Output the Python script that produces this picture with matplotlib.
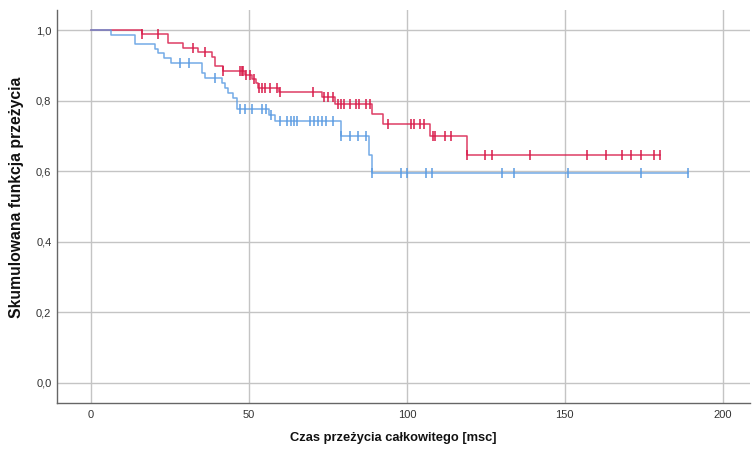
import numpy as np
import matplotlib
matplotlib.use("Agg")
import matplotlib.pyplot as plt
from matplotlib.ticker import FuncFormatter

# Kaplan-Meier step functions: times where the estimate drops and the level after each drop
red_times = [0, 16.0, 24.2, 29.2, 34.0, 38.3, 39.2, 41.9, 48.7, 51.0, 52.2, 52.9,
             59.5, 73.2, 77.4, 89.1, 92.4, 107.2, 119.0]
red_surv = [1.0, 0.988, 0.963, 0.950, 0.937, 0.924, 0.899, 0.885, 0.873, 0.861, 0.849, 0.837,
            0.823, 0.809, 0.790, 0.761, 0.734, 0.700, 0.646]
red_censored = [16.0, 21.1, 32.2, 36.1, 41.9, 47.2, 47.7, 48.2, 49.1, 50.3, 51.6, 53.3,
                54.2, 55.1, 56.6, 58.8, 59.8, 70.2, 73.7, 75.1, 76.7, 78.3, 79.3, 80.0,
                82.1, 84.0, 84.8, 87.0, 88.2, 94.1, 101.4, 102.4, 104.1, 105.3, 108.2,
                109.0, 112.0, 114.1, 119.0, 124.8, 126.9, 139.1, 157.1, 163.2, 168.1,
                171.1, 174.3, 178.2, 180.3]

blue_times = [0, 6.2, 14.0, 20.3, 21.3, 23.1, 25.3, 35.0, 36.1, 41.4, 42.4, 43.5, 45.0,
              46.1, 56.4, 58.2, 79.0, 88.1, 88.9]
blue_surv = [1.0, 0.987, 0.960, 0.947, 0.934, 0.921, 0.906, 0.877, 0.863, 0.849, 0.835,
             0.821, 0.806, 0.777, 0.759, 0.741, 0.700, 0.646, 0.594]
blue_censored = [28.2, 31.1, 39.2, 47.2, 48.7, 50.9, 54.0, 55.3, 56.9, 59.8, 62.1, 63.2,
                 64.2, 65.3, 69.3, 70.6, 71.8, 73.0, 74.3, 76.5, 79.3, 82.0, 84.4, 87.0,
                 89.0, 98.0, 100.1, 106.2, 108.0, 130.1, 134.0, 151.0, 174.3, 189.0]

x_ticks = [0, 50, 100, 150, 200]
y_ticks = [0.0, 0.2, 0.4, 0.6, 0.8, 1.0]

RED = "#d81b4a"
BLUE = "#5c9ce2"

plt.rcParams["font.family"] = ["Liberation Sans", "DejaVu Sans"]

fig = plt.figure(figsize=(7.52, 4.5), dpi=100)
ax = fig.add_axes([0.0758, 0.1044, 0.9212, 0.8736])


def draw_curve(times, surv, censored, color):
    t = np.asarray(times, dtype=float)
    s = np.asarray(surv, dtype=float)
    c = np.asarray(censored, dtype=float)
    end = max(t[-1], c.max())
    tx = np.append(t, end)
    sy = np.append(s, s[-1])
    ax.step(tx, sy, where="post", color=color, lw=1.1, alpha=0.85, zorder=3)
    idx = np.searchsorted(t, c, side="right") - 1
    ax.plot(c, s[idx], linestyle="none", marker="|", markersize=7, markeredgewidth=1.1,
            color=color, zorder=4)


draw_curve(red_times, red_surv, red_censored, RED)
draw_curve(blue_times, blue_surv, blue_censored, BLUE)

ax.set_xlim(-10.8, 208.6)
ax.set_ylim(-0.057, 1.057)
ax.set_xticks(x_ticks)
ax.set_yticks(y_ticks)
ax.yaxis.set_major_formatter(FuncFormatter(lambda v, p: f"{v:.1f}".replace(".", ",")))
ax.grid(True, color="#c4c4c4", lw=1.0, zorder=0)
ax.tick_params(length=0, labelsize=8, colors="#333333")
ax.tick_params(axis="x", pad=5)
ax.tick_params(axis="y", pad=4)

for side in ("top", "right"):
    ax.spines[side].set_visible(False)
for side in ("left", "bottom"):
    ax.spines[side].set_color("#666666")
    ax.spines[side].set_linewidth(1.0)

ax.set_xlabel("Czas przeżycia całkowitego [msc]", fontsize=9.3, fontweight="bold",
              color="#111111")
ax.set_ylabel("Skumulowana funkcja przeżycia", fontsize=11.3, fontweight="bold",
              color="#111111")
ax.xaxis.set_label_coords(0.486, -0.074)
ax.yaxis.set_label_coords(-0.047, 0.524)

fig.savefig("out.png", dpi=100)
